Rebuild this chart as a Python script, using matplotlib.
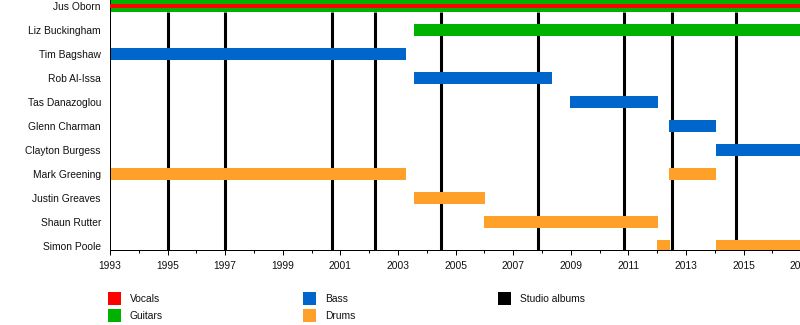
import matplotlib
matplotlib.use("Agg")
import matplotlib.pyplot as plt
from matplotlib.patches import Rectangle

plt.rcParams['font.family'] = ['Liberation Sans', 'DejaVu Sans']

# Band members, top to bottom
members = ["Jus Oborn", "Liz Buckingham", "Tim Bagshaw", "Rob Al-Issa",
           "Tas Danazoglou", "Glenn Charman", "Clayton Burgess",
           "Mark Greening", "Justin Greaves", "Shaun Rutter", "Simon Poole"]

END = 2018.0  # still active

# (member, role, start, end)
periods = [
    ("Jus Oborn", "Guitars", 1993.0, END),
    ("Liz Buckingham", "Guitars", 2003.56, END),
    ("Tim Bagshaw", "Bass", 1993.0, 2003.28),
    ("Rob Al-Issa", "Bass", 2003.56, 2008.35),
    ("Tas Danazoglou", "Bass", 2008.98, 2012.03),
    ("Glenn Charman", "Bass", 2012.41, 2014.04),
    ("Clayton Burgess", "Bass", 2014.03, END),
    ("Mark Greening", "Drums", 1993.0, 2003.28),
    ("Mark Greening", "Drums", 2012.41, 2014.04),
    ("Justin Greaves", "Drums", 2003.56, 2006.02),
    ("Shaun Rutter", "Drums", 2006.0, 2012.03),
    ("Simon Poole", "Drums", 2012.0, 2012.44),
    ("Simon Poole", "Drums", 2014.03, END),
]
# secondary role drawn as a thin stripe inside the main bar
stripes = [
    ("Jus Oborn", "Vocals", 1993.0, END),
]

albums = [1995.0, 1997.0, 2000.71, 2002.21, 2004.5, 2007.87, 2010.86, 2012.52, 2014.75]

role_colors = {
    "Vocals": "#FF0000",
    "Guitars": "#00B200",
    "Bass": "#0066CC",
    "Drums": "#FFA028",
}
legend_entries = [("Vocals", "#FF0000"), ("Guitars", "#00B200"),
                  ("Bass", "#0066CC"), ("Drums", "#FFA028"),
                  ("Studio albums", "#000000")]

W, H = 800, 325
fig = plt.figure(figsize=(W / 100, H / 100), dpi=100)
px_per_year = 28.8
ax = fig.add_axes([110 / W, 75 / H, (END - 1993) * px_per_year / W, 250 / H])

row = {m: i for i, m in enumerate(members)}
bar_h = 0.5

# album release lines (behind the bars)
ax.vlines(albums, 0.25, 10.5, colors="black", linewidth=2.2, zorder=1)

for m, role, s, e in periods:
    ax.barh(row[m], e - s, left=s, height=bar_h, color=role_colors[role],
            linewidth=0, zorder=2)
for m, role, s, e in stripes:
    ax.barh(row[m], e - s, left=s, height=bar_h / 3, color=role_colors[role],
            linewidth=0, zorder=3)

ax.set_xlim(1993, END)
ax.set_ylim(10.1667, -0.25)

ax.set_yticks(range(len(members)))
ax.set_yticklabels(members, fontsize=7.4, color="#111111")
ax.tick_params(axis="y", length=0, pad=6.5)

ax.set_xticks(range(1993, 2018, 2))
ax.set_xticks(range(1993, 2018), minor=True)
ax.set_xticklabels([str(y) for y in range(1993, 2018, 2)], fontsize=7.4,
                   color="#111111")
ax.tick_params(axis="x", which="major", length=3.6, width=0.72, pad=4)
ax.tick_params(axis="x", which="minor", length=2.2, width=0.72)

for side in ("top", "right"):
    ax.spines[side].set_visible(False)
for side in ("left", "bottom"):
    ax.spines[side].set_linewidth(0.72)
ax.set_facecolor("white")

# legend: three columns, two rows
col_x = [108, 303, 498]
row_y = [292, 309]
slots = [(0, 0), (0, 1), (1, 0), (1, 1), (2, 0)]
for (label, color), (c, r) in zip(legend_entries, slots):
    x0 = col_x[c]
    y0 = row_y[r]
    fig.patches.append(Rectangle((x0 / W, 1 - (y0 + 13) / H), 13 / W, 13 / H,
                                 transform=fig.transFigure, color=color,
                                 linewidth=0))
    fig.text((x0 + 22) / W, 1 - (y0 + 7) / H, label, fontsize=7.4,
             color="#111111", va="center", ha="left")

fig.savefig("out.png", dpi=100)
